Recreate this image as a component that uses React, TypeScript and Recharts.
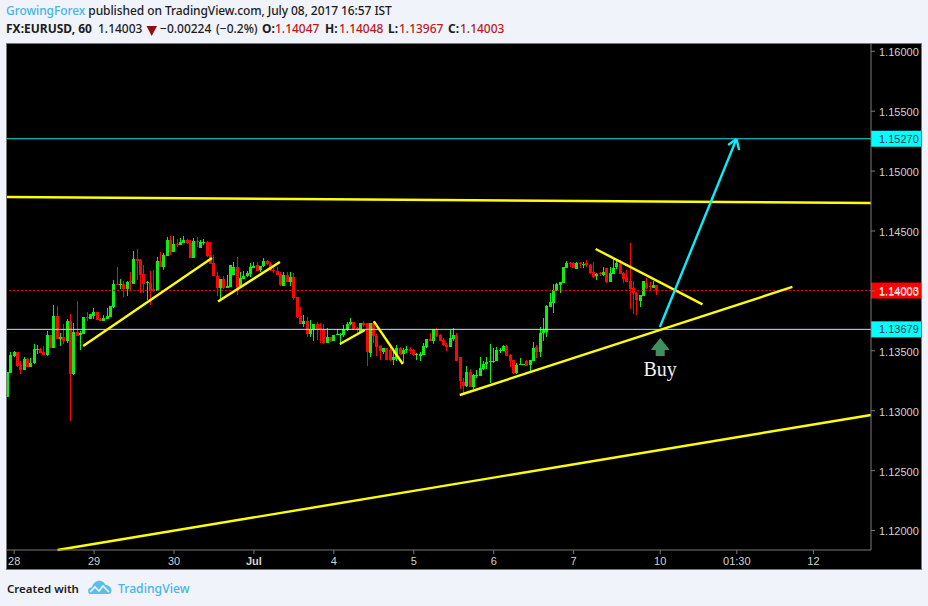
import React from "react";
import { ComposedChart, Bar, XAxis, YAxis, ReferenceLine, ReferenceDot } from "recharts";

// All prices are in points (1/100000), as in 113119 = 1.13119
const opens = [113119,113319,113458,113491,113385,113341,113433,113366,113394,113513,113516,113491,113466,113633,113527,113791,113602,113616,113583,113750,113308,113658,113627,113641,113783,113766,113794,113825,113769,113750,113769,113780,113864,114058,114053,114058,114017,114080,114058,114267,114258,114142,114069,114064,114014,113997,114250,114200,114295,114425,114325,114392,114384,114400,114425,114400,114278,114417,114361,114403,114409,114300,114231,114125,114025,114100,114028,114036,114128,114197,114036,114105,114119,114141,114191,114214,114175,114203,114247,114225,114175,114166,114139,114044,114133,114078,114116,113950,113791,113722,113749,113641,113674,113727,113688,113680,113569,113616,113583,113627,113630,113630,113669,113719,113738,113691,113658,113733,113730,113480,113730,113624,113541,113491,113527,113508,113424,113438,113527,113474,113502,113519,113505,113463,113463,113466,113535,113602,113583,113674,113630,113588,113549,113535,113599,113633,113446,113243,113207,113321,113196,113296,113290,113351,113390,113404,113410,113415,113499,113502,113541,113466,113424,113313,113382,113385,113418,113377,113418,113532,113491,113646,113660,113863,113902,113996,114052,114063,114194,114236,114236,114186,114230,114213,114230,114216,114158,114124,114147,114133,114194,114077,114147,114194,114224,114152,114119,114083,114022,113980,113913,113960,114069,114041,114027,114047];
const highs = [113324,113494,113499,113491,113411,113452,113438,113441,113558,113547,113522,113541,113666,113633,113883,113875,113647,113725,113766,113808,113730,113916,113661,113783,113822,113808,113855,113825,113772,113800,113855,113872,114092,114200,114097,114080,114080,114158,114331,114350,114267,114219,114083,114169,114175,114283,114322,114314,114453,114459,114459,114431,114439,114459,114434,114425,114445,114447,114425,114436,114417,114409,114297,114158,114103,114125,114133,114217,114239,114280,114161,114166,114166,114230,114239,114242,114208,114272,114258,114244,114208,114197,114161,114155,114155,114155,114147,113952,113866,113800,113780,113758,113727,113738,113730,113724,113688,113619,113630,113680,113652,113716,113738,113772,113744,113702,113736,113747,113730,113730,113749,113638,113549,113527,113527,113558,113508,113549,113530,113521,113541,113530,113513,113480,113494,113566,113602,113647,113680,113691,113638,113605,113566,113674,113688,113647,113452,113271,113374,113346,113307,113340,113452,113418,113452,113557,113521,113529,113521,113549,113549,113474,113424,113396,113438,113393,113424,113424,113571,113549,113702,113771,113883,113980,114055,114063,114074,114199,114252,114238,114238,114238,114244,114244,114258,114222,114238,114152,114155,114202,114194,114202,114280,114269,114258,114160,114174,114397,114085,113994,113966,114085,114105,114077,114083,114048];
const lows = [113119,113319,113452,113366,113299,113341,113360,113366,113394,113474,113480,113466,113461,113527,113527,113600,113541,113558,113569,112918,113294,113622,113502,113641,113744,113766,113766,113758,113744,113750,113769,113780,113858,114047,114017,113950,113958,114008,114058,114092,113986,113986,113925,113883,113989,113997,114200,114169,114295,114300,114325,114364,114384,114400,114392,114278,114278,114364,114361,114384,114286,114222,114119,113958,113930,114019,114025,114036,114128,113966,114030,114097,114114,114114,114189,114164,114161,114197,114217,114166,114153,114130,114041,114044,114072,114041,113925,113777,113724,113702,113616,113616,113583,113591,113563,113560,113566,113577,113583,113627,113549,113619,113663,113716,113674,113652,113652,113697,113369,113444,113563,113452,113424,113480,113424,113419,113383,113416,113466,113396,113480,113474,113458,113424,113419,113466,113527,113583,113558,113613,113580,113535,113499,113535,113577,113410,113188,113132,113201,113196,113179,113271,113290,113346,113354,113229,113396,113415,113479,113499,113460,113368,113307,113307,113379,113385,113377,113313,113415,113443,113452,113577,113618,113860,113813,113994,113980,114063,114194,114194,114186,114180,114194,114194,114202,114135,114108,114091,114119,114127,114072,114077,114141,114188,114138,114069,114077,113849,113807,113799,113869,113960,114013,114013,114022,113967];
const closes = [113324,113466,113488,113374,113341,113433,113363,113397,113513,113516,113483,113466,113633,113527,113791,113600,113616,113583,113750,113310,113658,113622,113647,113783,113772,113808,113825,113758,113752,113775,113791,113872,114058,114047,114058,114017,114075,114075,114267,114253,114136,114058,114075,113997,113994,114250,114200,114297,114425,114325,114392,114386,114409,114425,114397,114278,114417,114409,114409,114409,114292,114225,114119,114022,114100,114025,114042,114217,114197,114022,114111,114128,114147,114197,114208,114166,114208,114247,114225,114172,114166,114130,114044,114133,114078,114116,113939,113783,113727,113749,113638,113680,113727,113674,113669,113566,113616,113583,113630,113638,113641,113680,113722,113738,113680,113674,113733,113716,113485,113730,113619,113535,113499,113527,113424,113424,113446,113527,113474,113508,113513,113502,113460,113471,113477,113538,113602,113588,113680,113622,113583,113544,113535,113610,113633,113419,113244,113207,113324,113196,113299,113301,113354,113390,113404,113415,113415,113504,113507,113541,113460,113418,113313,113382,113388,113393,113377,113421,113524,113488,113646,113674,113874,113905,114008,114058,114074,114199,114236,114230,114191,114236,114222,114224,114213,114147,114113,114144,114135,114161,114077,114152,114194,114230,114141,114105,114077,114013,113977,113919,113966,114085,114030,114030,114049,114003];

const priceTicks = [112000,112500,113000,113500,114000,114500,115000,115500,116000];
const timeTicks = [0,24,48,72,96,120,144,168,194,217,240];
const timeLabels = ["28","29","30","Jul","4","5","6","7","10","01:30","12"];

const LAST_PRICE = 114003;
const TARGET_PRICE = 115270;
const BUY_PRICE = 113679;

// trend lines as [bar, price, bar, price]
const yellowLines = [
  [-2.16,114784,257.3,114734],
  [13,111837,257.3,112964],
  [20.7,113540,59.4,114275],
  [61.2,113912,79.8,114241],
  [97.8,113557,105.3,113674],
  [108,113745,116.7,113390],
  [133.8,113131,233.7,114033],
  [174.6,114350,206.7,113887],
];
const cyanLines = [
  [193.9,113699,216.9,115268],
  [214.4,115218,216.9,115268],
  [217.7,115176,216.9,115268],
];

const firstBar = -2;
const chartData = opens.map((open, k) => ({
  i: k + firstBar,
  open,
  high: highs[k],
  low: lows[k],
  close: closes[k],
  range: [lows[k], highs[k]],
}));

const UP = "#0cee18";
const DOWN = "#f80808";
const AXIS = "#7a7a7a";
const TEXT = "#d2d2d2";
const FONT = "'Liberation Sans', Arial, sans-serif";
const HEAD = "'Noto Sans', sans-serif";

function Candle(props: any) {
  const { x, y, width, height, payload } = props;
  const top = Math.min(y, y + height);
  const h = Math.abs(height);
  const k = h / (payload.high - payload.low);
  const yO = top + (payload.high - payload.open) * k;
  const yC = top + (payload.high - payload.close) * k;
  const up = payload.close >= payload.open;
  const col = up ? UP : DOWN;
  const cx = Math.round(x + width / 2 - 0.5);
  const bodyTop = Math.round(Math.min(yO, yC));
  const bodyH = Math.max(1, Math.round(Math.abs(yO - yC)));
  return (
    <g shapeRendering="crispEdges">
      <rect x={cx} y={Math.round(top)} width={1} height={Math.max(1, Math.round(h))} fill={col} />
      <rect x={cx - 1} y={bodyTop} width={3} height={bodyH} fill={col} />
    </g>
  );
}

function PriceTag(props: any) {
  const { viewBox, value, bg, fg } = props;
  const right = viewBox.x + viewBox.width;
  return (
    <g>
      <rect x={right} y={viewBox.y - 8} width={50} height={16} fill={bg} />
      <text x={right + 8} y={viewBox.y + 4} fill={fg} fontSize={11} fontFamily={FONT}>{(value / 100000).toFixed(5)}</text>
    </g>
  );
}

function TimeTick(props: any) {
  const { x, y, index } = props;
  const label = timeLabels[index];
  return (
    <text x={x} y={y + 9} textAnchor="middle" fill={TEXT} fontSize={11} fontFamily={FONT} fontWeight={label === "Jul" ? 700 : 400}>{label}</text>
  );
}

function PriceTick(props: any) {
  const { x, y, payload } = props;
  return (
    <text x={x} y={y + 5} fill={TEXT} fontSize={11} fontFamily={FONT}>{(payload.value / 100000).toFixed(5)}</text>
  );
}

function BuyArrow(props: any) {
  const { cx, cy } = props;
  const pts = [[0,0],[9.5,12],[4.5,12],[4.5,18],[-4.5,18],[-4.5,12],[-9.5,12]].map(p => `${cx + p[0]},${cy + p[1]}`).join(" ");
  return <polygon points={pts} fill="#3f8f63" />;
}

function BuyText(props: any) {
  const { cx, cy } = props;
  return <text x={cx} y={cy + 6} textAnchor="middle" fill="#f2f2f2" fontSize={20} fontFamily="'Liberation Serif', serif">Buy</text>;
}

const abs = (left: number, top: number, extra: any = {}): any => ({ position: "absolute", left, top, whiteSpace: "nowrap", lineHeight: "16px", ...extra });

const HEAD2: [number, string, boolean, string][] = [
  [6, "FX:EURUSD, 60", true, "#1c1c1c"],
  [98, "1.14003", false, "#1c1c1c"],
  [160, "\u22120.00224", false, "#1c1c1c"],
  [216, "(\u22120.2%)", false, "#1c1c1c"],
  [262, "O:", true, "#1c1c1c"],
  [275, "1.14047", false, "#b71c1c"],
  [325, "H:", true, "#1c1c1c"],
  [339, "1.14048", false, "#b71c1c"],
  [388, "L:", true, "#1c1c1c"],
  [399, "1.13967", false, "#b71c1c"],
  [448, "C:", true, "#1c1c1c"],
  [460, "1.14003", false, "#b71c1c"],
];

export default function App() {
  return (
    <div style={{ position: "fixed", left: 0, top: 0, width: 928, height: 606, background: "#f0f3fa", overflow: "hidden" }}>
      <div style={abs(6, 3, { fontFamily: HEAD, fontSize: 12, letterSpacing: "-0.08px", color: "#1c1c1c", fontWeight: 500 })}>
        <span style={{ color: "#45b4e6" }}>GrowingForex</span> published on TradingView.com, July 08, 2017 16:57 IST
      </div>
      {HEAD2.map(([x, t, b, c], n) => (
        <div key={n} style={abs(x, 21, { fontFamily: HEAD, fontSize: 12, color: c, fontWeight: b ? 700 : 500 })}>{t}</div>
      ))}
      <svg style={{ position: "absolute", left: 146, top: 25 }} width={12} height={12}>
        <polygon points="0.500,1 11,1 5.700,11" fill="#8f1010" />
      </svg>
      <div style={{ position: "absolute", left: 6, top: 43, width: 916, height: 527, boxSizing: "border-box", background: "#000", border: `1px solid ${AXIS}` }} />
      <div style={{ position: "absolute", left: 0, top: 0 }}>
        <ComposedChart width={928} height={606} data={chartData} margin={{ top: 44, left: 7, right: 7, bottom: 37 }}>
          <XAxis
            dataKey="i"
            type="number"
            domain={[-2.16, 257.3]}
            allowDataOverflow
            ticks={timeTicks}
            height={19}
            stroke={AXIS}
            tickSize={4}
            tick={<TimeTick />}
            interval={0}
          />
          <YAxis
            orientation="right"
            width={50}
            type="number"
            domain={[111837, 116061]}
            allowDataOverflow
            ticks={priceTicks}
            stroke={AXIS}
            tickSize={4}
            tickMargin={4}
            interval={0}
            tick={<PriceTick />}
          />
          <Bar dataKey="range" barSize={3} isAnimationActive={false} shape={<Candle />} />
          <ReferenceLine y={TARGET_PRICE} stroke="#19e6e6" strokeWidth={1} label={<PriceTag value={TARGET_PRICE} bg="#00ffff" fg="#333" />} />
          <ReferenceLine y={BUY_PRICE} stroke="#a8f0f0" strokeWidth={1} label={<PriceTag value={BUY_PRICE} bg="#00ffff" fg="#333" />} />
          <ReferenceLine y={LAST_PRICE} stroke="#ff0000" strokeWidth={1} strokeDasharray="2 2" label={<PriceTag value={LAST_PRICE} bg="#ff0000" fg="#fff" />} />
          {yellowLines.map((l, n) => (
            <ReferenceLine key={`y${n}`} ifOverflow="visible" segment={[{ x: l[0], y: l[1] }, { x: l[2], y: l[3] }]} stroke="#ffff00" strokeWidth={2.4} />
          ))}
          {cyanLines.map((l, n) => (
            <ReferenceLine key={`c${n}`} ifOverflow="visible" segment={[{ x: l[0], y: l[1] }, { x: l[2], y: l[3] }]} stroke="#0feaf5" strokeWidth={2.4} />
          ))}
          <ReferenceDot x={194} y={113607} r={0} ifOverflow="visible" shape={<BuyArrow />} />
          <ReferenceDot x={194} y={113340} r={0} ifOverflow="visible" shape={<BuyText />} />
        </ComposedChart>
      </div>
      <div style={abs(7, 581, { fontFamily: HEAD, fontSize: 11.500, color: "#1c1c1c", fontWeight: 600 })}>Created with</div>
      <svg style={{ position: "absolute", left: 88, top: 580 }} width={24} height={15} viewBox="0 0 24 15">
        <path d="M1 14 C-1 11 0 8 4 7 C5 3 9 0 13 1 C16 1.500 17 4 17.500 5 C21 5 24 8 23.500 11 C23.300 13 22 14 21 14 Z" fill="#5bbfe8" />
        <path d="M2 12 L7 7 L11 11 L15 6 L21 12" fill="none" stroke="#f0f3fa" strokeWidth={1.6} />
      </svg>
      <div style={abs(118, 581, { fontFamily: HEAD, fontSize: 12.200, color: "#45b4e6", fontWeight: 500 })}>TradingView</div>
    </div>
  );
}
